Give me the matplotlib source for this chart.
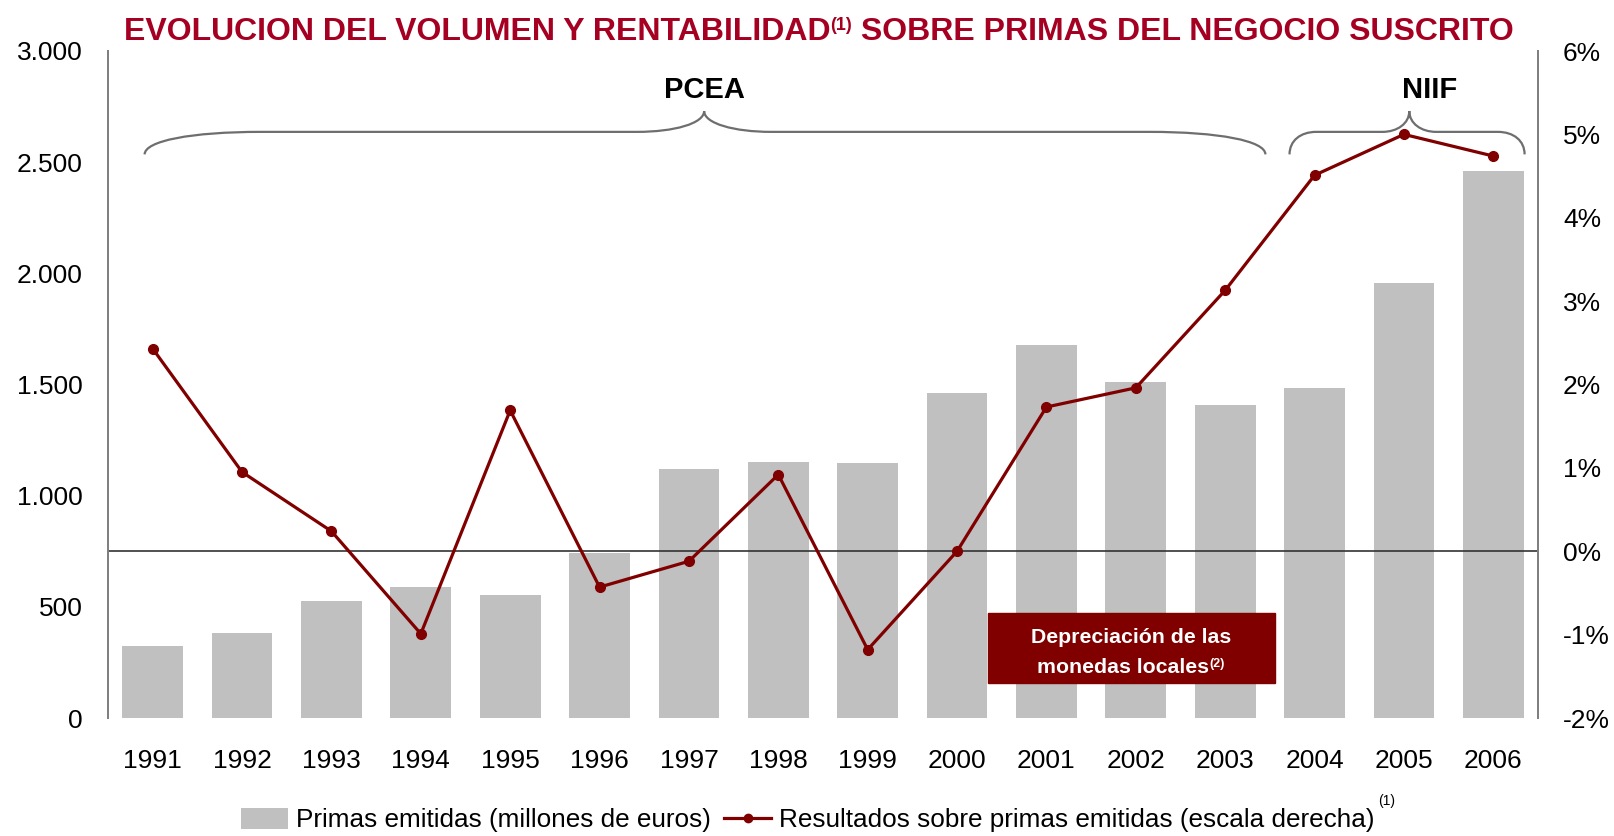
import numpy as np
import matplotlib
matplotlib.use("Agg")
import matplotlib.pyplot as plt
from matplotlib import font_manager
from matplotlib.path import Path
from matplotlib.patches import PathPatch, Patch, Rectangle
from matplotlib.lines import Line2D

# datos
anios = ["1991", "1992", "1993", "1994", "1995", "1996", "1997", "1998",
         "1999", "2000", "2001", "2002", "2003", "2004", "2005", "2006"]
primas = [324, 382, 526, 590, 553, 743, 1118, 1150, 1145, 1460, 1678, 1512,
          1410, 1484, 1956, 2460]
resultados = [2.43, 0.95, 0.24, -0.99, 1.69, -0.43, -0.12, 0.92, -1.18, 0.0,
              1.73, 1.96, 3.13, 4.51, 5.00, 4.74]
ticks_izq = [0, 500, 1000, 1500, 2000, 2500, 3000]
ticks_der = [-2, -1, 0, 1, 2, 3, 4, 5, 6]

ROJO = "#A50021"
GRANATE = "#800000"
GRIS = "#C0C0C0"

disponibles = {f.name for f in font_manager.fontManager.ttflist}
NARROW = "Liberation Sans Narrow" if "Liberation Sans Narrow" in disponibles else "Liberation Sans"
plt.rcParams["font.family"] = "Liberation Sans"

W, H = 1614, 836
fig = plt.figure(figsize=(W / 100, H / 100), dpi=100)
ax = fig.add_axes([108 / W, 1 - 718 / H, (1538 - 108) / W, (718 - 51) / H])
ax2 = ax.twinx()

x = np.arange(len(anios))
ax.bar(x, primas, width=0.68, color=GRIS, zorder=1)
ax.set_ylim(0, 3000)
ax.set_xlim(-0.5, len(anios) - 0.5)
ax.set_yticks(ticks_izq)
ax.set_yticklabels([f"{v:,}".replace(",", ".") for v in ticks_izq])
ax.set_xticks(x)
ax.set_xticklabels(anios)

ax2.axhline(0, color="#333333", lw=1.2, zorder=2)
ax2.plot(x, resultados, color=GRANATE, lw=2.3, marker="o", ms=7, zorder=3)
ax2.set_ylim(-2, 6)
ax2.set_yticks(ticks_der)
ax2.set_yticklabels([f"{v}%" for v in ticks_der])

for a in (ax, ax2):
    for lado in ("top", "bottom"):
        a.spines[lado].set_visible(False)
    for lado in ("left", "right"):
        a.spines[lado].set_color("#808080")
        a.spines[lado].set_linewidth(1.4)
    a.tick_params(length=0, labelsize=19)
ax.tick_params(axis="y", pad=18)
ax.tick_params(axis="x", pad=22)
ax2.tick_params(axis="y", pad=18)


def llave(a, x0, x1, xm, yh, ye, yt, r_ext, r_pun):
    v = [(x0, ye),
         (x0, ye + 0.6 * (yh - ye)), (x0 + 0.4 * r_ext, yh), (x0 + r_ext, yh),
         (xm - r_pun, yh),
         (xm - 0.45 * r_pun, yh), (xm, yh + 0.4 * (yt - yh)), (xm, yt),
         (xm, yh + 0.4 * (yt - yh)), (xm + 0.45 * r_pun, yh), (xm + r_pun, yh),
         (x1 - r_ext, yh),
         (x1 - 0.4 * r_ext, yh), (x1, ye + 0.6 * (yh - ye)), (x1, ye)]
    c = [Path.MOVETO, Path.CURVE4, Path.CURVE4, Path.CURVE4, Path.LINETO,
         Path.CURVE4, Path.CURVE4, Path.CURVE4, Path.CURVE4, Path.CURVE4,
         Path.CURVE4, Path.LINETO, Path.CURVE4, Path.CURVE4, Path.CURVE4]
    a.add_patch(PathPatch(Path(v, c), fill=False, ec="#6e6e6e", lw=1.6,
                          zorder=4, clip_on=False))


llave(ax2, -0.09, 12.45, 6.17, 5.03, 4.76, 5.28, 1.3, 0.75)
llave(ax2, 12.72, 15.35, 14.06, 5.03, 4.76, 5.28, 0.3, 0.3)
ax2.text(6.17, 5.36, "PCEA", ha="center", va="bottom", fontsize=21,
         weight="bold")
ax2.text(14.29, 5.36, "NIIF", ha="center", va="bottom", fontsize=21,
         weight="bold")

r = fig.canvas.get_renderer()


def partes(xc, yb, trozos, **kw):
    objs = []
    for txt, size, dy in trozos:
        t = fig.text(0, yb, txt, fontsize=size, va="baseline", **kw)
        objs.append((t, dy))
    anchos = [t.get_window_extent(r).width for t, _ in objs]
    xp = xc * W - sum(anchos) / 2
    for (t, dy), w in zip(objs, anchos):
        t.set_position((xp / W, yb + dy / H))
        xp += w


partes(819 / W, 1 - 40 / H,
       [("EVOLUCION DEL VOLUMEN Y RENTABILIDAD", 23, 0), ("(1)", 13, 10),
        (" SOBRE PRIMAS DEL NEGOCIO SUSCRITO", 23, 0)],
       color=ROJO, weight="bold", family=NARROW)

# recuadro de depreciacion
fig.patches.append(Rectangle(
    (988 / W, 1 - 683 / H), (1275 - 988) / W, (683 - 613) / H,
    transform=fig.transFigure, color=GRANATE, zorder=5))
fig.text(1131 / W, 1 - 643 / H, "Depreciación de las", ha="center",
         va="baseline", fontsize=15.3, weight="bold", color="white", zorder=6)
partes(1131 / W, 1 - 673 / H, [("monedas locales", 15.3, 0), ("(2)", 9, 6)],
       color="white", weight="bold", zorder=6)

handles = [Patch(facecolor=GRIS, edgecolor="none"),
           Line2D([], [], color=GRANATE, lw=2.3, marker="o", ms=6)]
leg = fig.legend(handles, ["Primas emitidas (millones de euros)",
                           "Resultados sobre primas emitidas (escala derecha)"],
                 loc="center", bbox_to_anchor=(808 / W, 1 - 820 / H), ncol=2,
                 frameon=False, prop={"family": NARROW, "size": 18.8},
                 handlelength=1.8, handleheight=0.9, handletextpad=0.3,
                 columnspacing=0.5, borderpad=0)
fig.canvas.draw()
bb = leg.get_window_extent(r)
fig.text((bb.x1 + 4) / W, (bb.y1 + 14) / H, "(1)", fontsize=10,
         family=NARROW, va="top", ha="left")

fig.savefig("out.png", dpi=100)
